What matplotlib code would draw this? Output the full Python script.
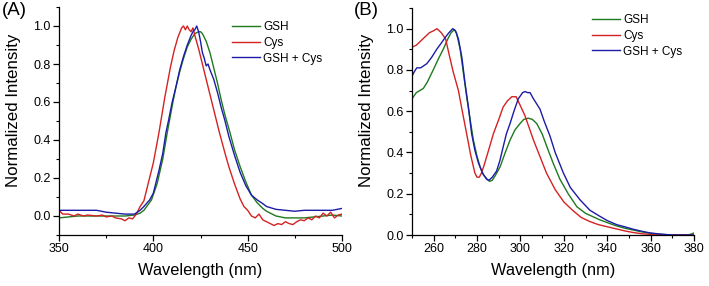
import matplotlib
matplotlib.use('Agg')
import matplotlib.pyplot as plt
from matplotlib.ticker import MultipleLocator

plt.rcParams['font.family'] = ['Liberation Sans', 'DejaVu Sans']

# panel A - emission spectra
a_cys_x = [350, 352, 355, 358, 360, 363, 365, 370, 373, 375, 378, 380, 383, 385, 387, 389, 391, 393, 395, 398,
           400, 403, 406, 409, 411, 413, 415, 416, 417, 418, 419, 420, 421, 422, 424, 426, 428, 430, 433, 435,
           438, 440, 443, 446, 448, 450, 452, 454, 456, 458, 460, 462, 464, 466, 468, 470, 472, 474, 476, 478,
           480, 482, 484, 486, 488, 490, 492, 494, 496, 498, 500]
a_cys_y = [0.03, 0.01, 0.01, 0.0, 0.01, 0.0, 0.005, 0.0, 0.005, -0.005, 0.0, -0.01, -0.015, -0.025, -0.01, -0.015, 0.01, 0.05, 0.08, 0.2,
           0.28, 0.44, 0.62, 0.78, 0.87, 0.94, 0.99, 1.0, 0.98, 1.0, 0.98, 0.97, 0.99, 0.95, 0.88, 0.8, 0.72, 0.64, 0.52, 0.44,
           0.33, 0.26, 0.17, 0.09, 0.05, 0.03, 0.0, -0.01, 0.01, -0.02, -0.03, -0.04, -0.05, -0.04, -0.045, -0.03, -0.04, -0.045, -0.03, -0.02,
           -0.025, -0.01, -0.02, 0.0, -0.01, 0.015, 0.0, 0.02, -0.01, 0.005, 0.01]

a_mix_x = [350, 355, 360, 365, 370, 375, 380, 385, 390, 393, 395, 398, 400, 403, 405, 406.7, 408, 410, 412, 414,
           416, 418, 420, 421, 422, 423, 424, 425, 426, 427, 428, 429, 430, 432, 434, 436, 438, 440, 443, 446,
           449, 452, 455, 458, 460, 465, 470, 475, 480, 485, 490, 495, 500]
a_mix_y = [0.03, 0.03, 0.03, 0.03, 0.03, 0.02, 0.015, 0.01, 0.01, 0.03, 0.05, 0.084, 0.12, 0.24, 0.33, 0.44, 0.5, 0.6, 0.68, 0.77,
           0.84, 0.9, 0.95, 0.97, 0.98, 1.0, 0.97, 0.92, 0.86, 0.83, 0.79, 0.8, 0.77, 0.72, 0.65, 0.57, 0.5, 0.42, 0.32, 0.23,
           0.16, 0.11, 0.085, 0.065, 0.05, 0.035, 0.03, 0.025, 0.03, 0.03, 0.03, 0.03, 0.04]

a_gsh_x = [350, 355, 360, 370, 380, 385, 390, 393, 395, 399, 402, 405, 407.4, 410, 412, 414, 416, 418, 420, 422,
           424, 425, 426, 428, 430, 432, 434, 436, 438, 440.6, 443, 446, 449, 452, 455, 458, 460, 465, 470, 475,
           480, 485, 490, 495, 500]
a_gsh_y = [-0.01, -0.005, 0.0, 0.0, 0.0, 0.0, 0.005, 0.015, 0.03, 0.084, 0.17, 0.3, 0.44, 0.58, 0.68, 0.76, 0.83, 0.89, 0.93, 0.96,
           0.97, 0.97, 0.96, 0.92, 0.86, 0.78, 0.7, 0.61, 0.53, 0.44, 0.35, 0.26, 0.18, 0.11, 0.07, 0.04, 0.025, 0.0, -0.01, -0.01,
           -0.01, -0.005, 0.0, 0.005, 0.0]

# panel B - excitation spectra
b_cys_x = [250, 252, 254, 256, 258, 260, 261.5, 262.5, 263.5, 265.5, 267, 269, 271.4, 273, 275.2, 277, 279, 280, 281, 282,
           283, 285, 287.5, 290, 292, 294, 296, 298, 299.8, 302, 304, 306, 309, 312, 316, 320, 324, 328, 332, 336,
           340, 344, 348, 352, 356, 360, 365, 370, 375, 380]
b_cys_y = [0.91, 0.92, 0.94, 0.96, 0.98, 0.99, 1.0, 0.99, 0.98, 0.95, 0.88, 0.79, 0.7, 0.61, 0.49, 0.39, 0.3, 0.28, 0.28, 0.3,
           0.33, 0.4, 0.49, 0.56, 0.62, 0.65, 0.67, 0.67, 0.63, 0.58, 0.52, 0.46, 0.38, 0.3, 0.22, 0.16, 0.12, 0.085, 0.065, 0.05,
           0.04, 0.03, 0.02, 0.012, 0.006, 0.003, 0.0, 0.0, 0.0, 0.0]

b_mix_x = [250, 251, 252.2, 254, 256.8, 259, 261.4, 263.5, 265.5, 267, 268.8, 270, 271.4, 273, 274.4, 276, 277.5, 279, 280.6, 282.5,
           284.4, 285.5, 287, 289, 290.5, 292.1, 293.5, 295.2, 297, 299, 301, 302.1, 303.3, 304.4, 306, 309, 311, 313.6, 316, 319.8,
           323, 327.5, 332, 336.7, 340, 344.4, 348, 352, 356, 359.8, 365, 370, 375, 380]
b_mix_y = [0.77, 0.79, 0.81, 0.81, 0.83, 0.86, 0.9, 0.93, 0.96, 0.98, 1.0, 0.99, 0.95, 0.86, 0.74, 0.62, 0.49, 0.41, 0.35, 0.3,
           0.27, 0.265, 0.28, 0.31, 0.36, 0.43, 0.49, 0.54, 0.6, 0.66, 0.69, 0.695, 0.69, 0.69, 0.66, 0.61, 0.55, 0.48, 0.4, 0.3,
           0.23, 0.17, 0.12, 0.09, 0.07, 0.05, 0.04, 0.028, 0.018, 0.01, 0.004, 0.0, 0.0, 0.0]

b_gsh_x = [250, 252, 255.2, 257, 259.8, 262, 264.4, 266.5, 268, 269.5, 270.5, 272.2, 273.5, 275.2, 276.8, 278.3, 280, 281.4, 283, 284.7,
           285.7, 287, 288.5, 290.6, 293, 295.2, 297.5, 299.8, 301.5, 303.6, 305.5, 307.5, 310, 312.1, 315, 318.2, 322, 326, 330, 336.7,
           340, 344, 348, 352, 356, 360, 365, 370, 375, 378, 380]
b_gsh_y = [0.66, 0.69, 0.71, 0.74, 0.8, 0.85, 0.9, 0.95, 0.98, 0.995, 0.98, 0.9, 0.8, 0.67, 0.56, 0.46, 0.38, 0.33, 0.29, 0.27,
           0.26, 0.265, 0.29, 0.33, 0.4, 0.46, 0.51, 0.54, 0.56, 0.566, 0.56, 0.54, 0.49, 0.43, 0.35, 0.27, 0.2, 0.137, 0.105, 0.073,
           0.06, 0.045, 0.033, 0.024, 0.015, 0.008, 0.003, 0.0, 0.0, 0.002, 0.01]

labels = ['GSH', 'Cys', 'GSH + Cys']
colors = ['#1e7a1e', '#d42222', '#1c1ca8']

fig = plt.figure(figsize=(7.09, 2.86), dpi=100)
axA = fig.add_axes([59 / 709, 51 / 286, 283 / 709, 228 / 286])
axB = fig.add_axes([412 / 709, 51 / 286, 282 / 709, 227 / 286])

axA.plot(a_gsh_x, a_gsh_y, color=colors[0], lw=1.0, label=labels[0])
axA.plot(a_cys_x, a_cys_y, color=colors[1], lw=1.0, label=labels[1])
axA.plot(a_mix_x, a_mix_y, color=colors[2], lw=1.0, label=labels[2])
axB.plot(b_gsh_x, b_gsh_y, color=colors[0], lw=1.0, label=labels[0])
axB.plot(b_cys_x, b_cys_y, color=colors[1], lw=1.0, label=labels[1])
axB.plot(b_mix_x, b_mix_y, color=colors[2], lw=1.0, label=labels[2])

axA.set_xlim(350, 500)
axA.set_ylim(-0.1, 1.1)
axA.xaxis.set_major_locator(MultipleLocator(50))
axA.xaxis.set_minor_locator(MultipleLocator(25))
axB.set_xlim(250, 380)
axB.set_ylim(0, 1.1)
axB.xaxis.set_minor_locator(MultipleLocator(10))
axB.set_xticks([260, 280, 300, 320, 340, 360, 380])

for ax in (axA, axB):
    ax.spines['top'].set_visible(False)
    ax.spines['right'].set_visible(False)
    ax.spines['left'].set_linewidth(0.9)
    ax.spines['bottom'].set_linewidth(0.9)
    ax.yaxis.set_major_locator(MultipleLocator(0.2))
    ax.yaxis.set_minor_locator(MultipleLocator(0.1))
    ax.tick_params(which='major', direction='out', length=4.5, width=0.9, labelsize=9, pad=1.5)
    ax.tick_params(which='minor', direction='out', length=2.5, width=0.8)
    ax.yaxis.set_major_formatter(plt.FuncFormatter(lambda v, p: '%.1f' % v))
    ax.set_xlabel('Wavelength (nm)', fontsize=11.8)
    ax.set_ylabel('Normalized Intensity', fontsize=12.2)

axA.xaxis.set_label_coords(0.5, -0.125)
axB.xaxis.set_label_coords(0.5, -0.125)
axA.yaxis.set_label_coords(-0.134, 0.548)
axB.yaxis.set_label_coords(-0.135, 0.55)

axA.legend(loc='upper left', bbox_to_anchor=(232 / 709, 1 - 21 / 286), bbox_transform=fig.transFigure,
           frameon=False, fontsize=8.5, handlelength=2.4, handletextpad=0.25, labelspacing=0.32,
           borderpad=0, borderaxespad=0)
axB.legend(loc='upper left', bbox_to_anchor=(592 / 709, 1 - 14 / 286), bbox_transform=fig.transFigure,
           frameon=False, fontsize=8.5, handlelength=2.4, handletextpad=0.25, labelspacing=0.32,
           borderpad=0, borderaxespad=0)

fig.text(2 / 709, 1 - 2 / 286, '(A)', fontsize=13.5, va='top', ha='left')
fig.text(354 / 709, 1 - 2 / 286, '(B)', fontsize=13.5, va='top', ha='left')

fig.savefig('out.png', dpi=100)
